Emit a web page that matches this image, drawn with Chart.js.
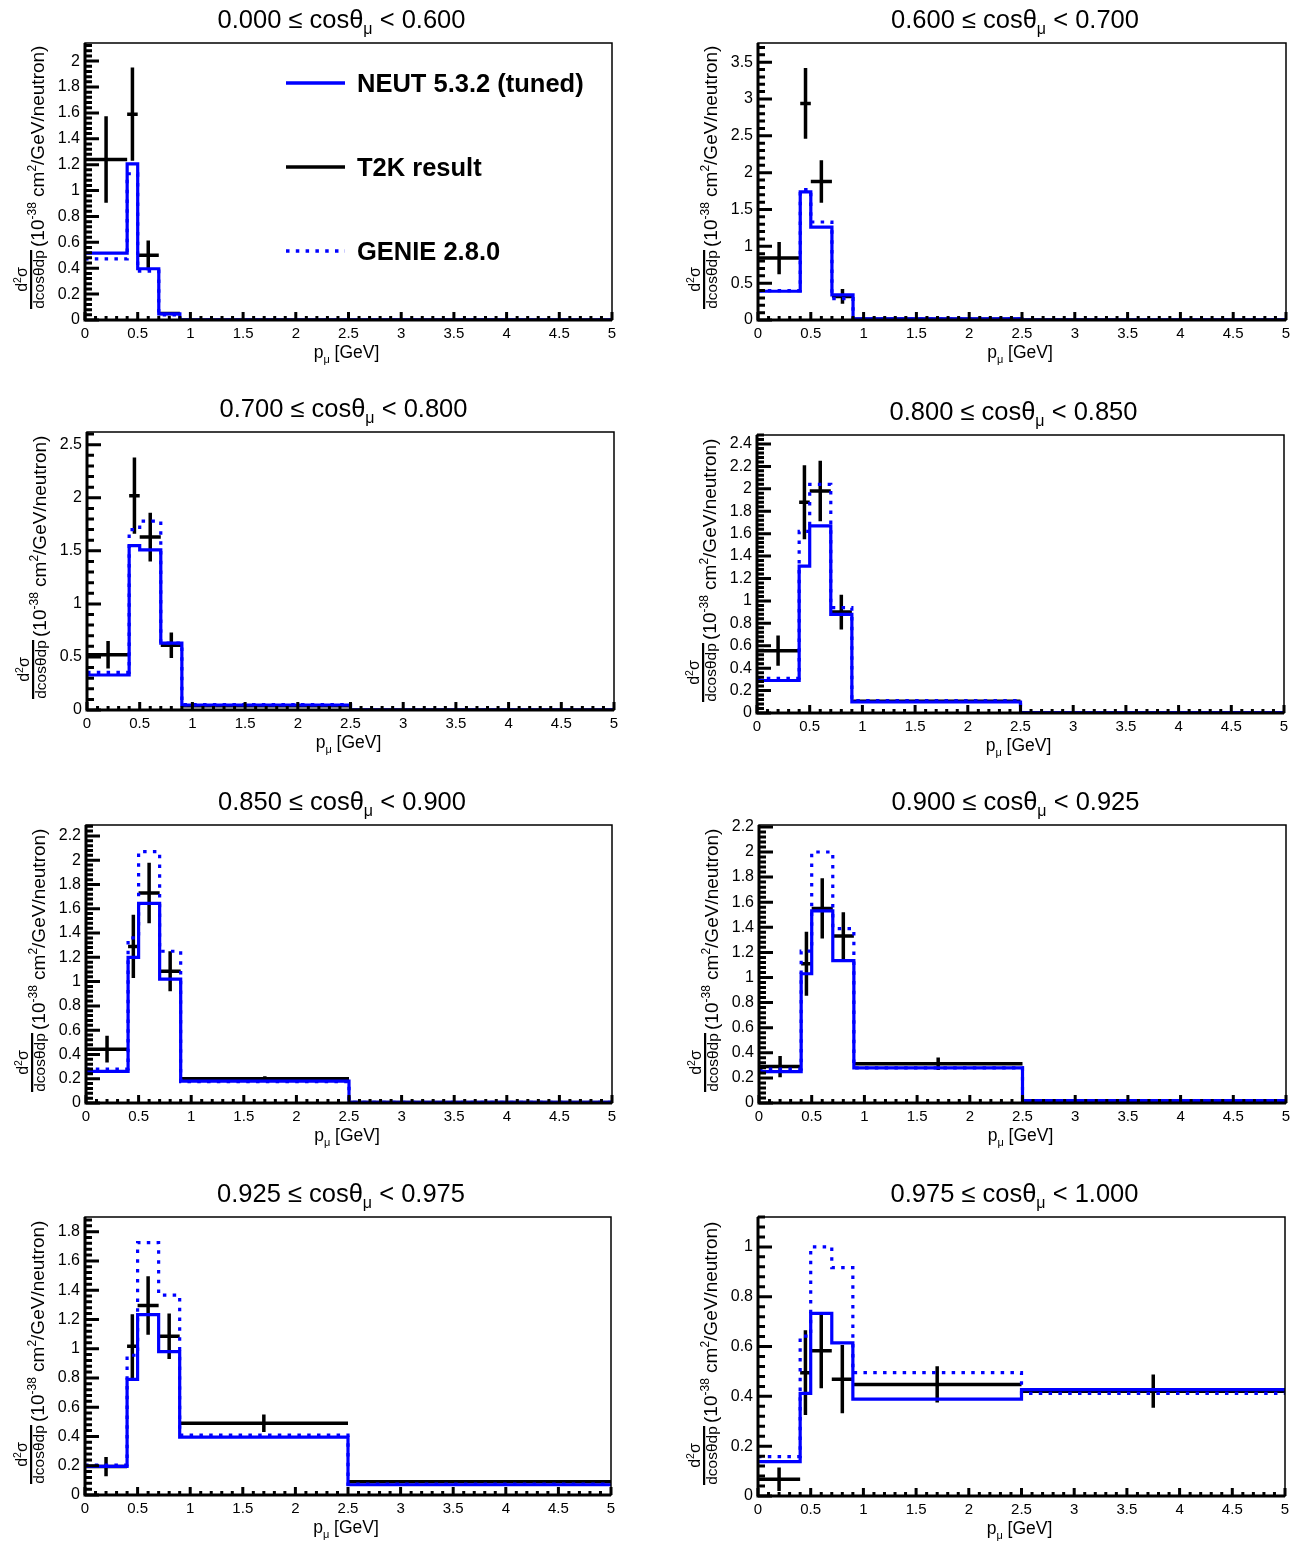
<!DOCTYPE html>
<html>
<head>
<meta charset="utf-8">
<script src="https://cdn.jsdelivr.net/npm/chart.js@4.4.1/dist/chart.umd.min.js"></script>
<style>
  body { margin: 0; background: #fff; width: 1304px; height: 1548px; position: relative; overflow: hidden; }
  canvas { position: absolute; }
</style>
</head>
<body>
<script>
// p_mu bin edges (GeV), shared by every cos(theta) slice
const binEdges = [0, 0.4, 0.5, 0.7, 0.9, 2.5, 5];
const xTickLabels = ['0', '0.5', '1', '1.5', '2', '2.5', '3', '3.5', '4', '4.5', '5'];

// cos(theta_mu) slices, one panel each
const cosBins = [
    ['0.000', '0.600'], ['0.600', '0.700'], ['0.700', '0.800'], ['0.800', '0.850'],
    ['0.850', '0.900'], ['0.900', '0.925'], ['0.925', '0.975'], ['0.975', '1.000']
];
const yMax = [2.14, 3.76, 2.62, 2.48, 2.29, 2.215, 1.9, 1.12];
const yStep = [0.2, 0.5, 0.5, 0.2, 0.2, 0.2, 0.2, 0.2];

// T2K result (black points) and their errors
const t2kValues = [
    [1.24, 1.59, 0.50, 0.05, 0, 0],
    [0.84, 2.94, 1.88, 0.32, 0.01, 0],
    [0.52, 2.02, 1.63, 0.61, 0.04, 0],
    [0.556, 1.88, 1.98, 0.90, 0.104, 0.003],
    [0.443, 1.29, 1.73, 1.086, 0.20, 0.005],
    [0.29, 1.11, 1.55, 1.33, 0.313, 0.015],
    [0.194, 1.016, 1.295, 1.085, 0.49, 0.09],
    [0.067, 0.495, 0.583, 0.469, 0.448, 0.421]
];
const t2kErrors = [
    [0.335, 0.36, 0.115, 0.01, 0, 0],
    [0.22, 0.48, 0.29, 0.10, 0.005, 0],
    [0.13, 0.36, 0.23, 0.12, 0.01, 0],
    [0.135, 0.33, 0.27, 0.155, 0.012, 0.001],
    [0.11, 0.26, 0.25, 0.165, 0.02, 0.001],
    [0.085, 0.255, 0.24, 0.19, 0.05, 0.005],
    [0.065, 0.22, 0.20, 0.155, 0.06, 0.01],
    [0.047, 0.17, 0.15, 0.137, 0.073, 0.067]
];
// NEUT 5.3.2 (tuned), solid blue
const neutValues = [
    [0.517, 1.206, 0.396, 0.047, 0, 0],
    [0.39, 1.74, 1.26, 0.34, 0.015, 0],
    [0.33, 1.55, 1.51, 0.63, 0.047, 0],
    [0.29, 1.31, 1.67, 0.88, 0.098, 0.003],
    [0.26, 1.20, 1.645, 1.02, 0.18, 0.005],
    [0.25, 1.03, 1.53, 1.134, 0.28, 0.02],
    [0.195, 0.79, 1.233, 0.98, 0.395, 0.07],
    [0.138, 0.412, 0.733, 0.615, 0.389, 0.427]
];
// GENIE 2.8.0, dotted blue
const genieValues = [
    [0.473, 1.13, 0.378, 0.04, 0, 0],
    [0.40, 1.77, 1.33, 0.29, 0.012, 0],
    [0.355, 1.70, 1.78, 0.63, 0.05, 0],
    [0.31, 1.62, 2.04, 0.94, 0.11, 0.003],
    [0.28, 1.36, 2.07, 1.25, 0.175, 0.005],
    [0.27, 1.21, 2.00, 1.39, 0.28, 0.02],
    [0.205, 0.955, 1.725, 1.366, 0.41, 0.075],
    [0.158, 0.642, 1.0, 0.917, 0.495, 0.412]
];

// page layout: plot frames [left, top, right, bottom] and row cells
const plotBoxes = [
    [85, 43, 612, 320], [758, 43, 1286, 320],
    [87, 432, 614, 710], [757, 435, 1284, 713],
    [86, 825, 612, 1103], [759, 825, 1286, 1103],
    [85, 1217, 611, 1495], [758, 1217, 1285, 1496]
];
const rowTops = [0, 387, 775, 1165, 1548];
const FONT = '"Liberation Sans", Arial, Helvetica, sans-serif';
const BLUE = '#0000ff';
const GENIE_DASH = [3.5, 6.3];

const fmt = v => String(Math.round(v * 1000) / 1000);

function histPoints(vals) {
    const pts = vals.map((v, k) => ({ x: binEdges[k], y: v }));
    pts.push({ x: binEdges[binEdges.length - 1], y: vals[vals.length - 1] });
    return pts;
}

function errorBarPoints(vals, errs) {
    const pts = [];
    vals.forEach((v, k) => {
        const lo = binEdges[k], hi = binEdges[k + 1], c = (lo + hi) / 2;
        pts.push({ x: lo, y: v }, { x: hi, y: v }, { x: hi, y: null });
        pts.push({ x: c, y: v - errs[k] }, { x: c, y: v + errs[k] }, { x: c, y: null });
    });
    return pts;
}

// draws a run of text pieces (for sub/superscripts)
function richText(ctx, parts, x, y, align) {
    let total = 0;
    parts.forEach(p => {
        ctx.font = (p.bold ? 'bold ' : '') + p.s + 'px ' + FONT;
        p.w = ctx.measureText(p.t).width;
        total += p.w;
    });
    let cx = align === 'center' ? x - total / 2 : align === 'right' ? x - total : x;
    ctx.textAlign = 'left';
    ctx.textBaseline = 'alphabetic';
    parts.forEach(p => {
        ctx.font = (p.bold ? 'bold ' : '') + p.s + 'px ' + FONT;
        ctx.fillText(p.t, cx, y + (p.dy || 0));
        cx += p.w;
    });
    return total;
}

const rootStyle = {
    id: 'rootStyle',
    afterDatasetsDraw(chart, args, opts) {
        const ctx = chart.ctx;
        const { left, right, top, bottom } = chart.chartArea;
        const xs = chart.scales.x, ys = chart.scales.y;
        ctx.save();
        ctx.strokeStyle = '#000';
        ctx.lineWidth = 1.5;
        ctx.strokeRect(left, top, right - left, bottom - top);
        ctx.lineWidth = 3;
        ctx.beginPath();
        ctx.moveTo(left, top);
        ctx.lineTo(left, bottom);
        ctx.lineTo(right, bottom);
        ctx.stroke();

        // inward ticks, ROOT style
        ctx.beginPath();
        for (let k = 0; k <= 50; k++) {
            const px = xs.getPixelForValue(k * 0.1);
            const len = k % 5 === 0 ? 8 : 4;
            ctx.moveTo(px, bottom);
            ctx.lineTo(px, bottom - len);
        }
        const minor = opts.step / 5;
        for (let k = 0; k * minor <= opts.max + 1e-9; k++) {
            const py = ys.getPixelForValue(k * minor);
            const len = k % 5 === 0 ? 14 : 7;
            ctx.moveTo(left, py);
            ctx.lineTo(left + len, py);
        }
        ctx.stroke();
        ctx.restore();
    },
    afterDraw(chart, args, opts) {
        const ctx = chart.ctx;
        const { left, right, top, bottom } = chart.chartArea;
        ctx.save();
        ctx.fillStyle = '#000';

        // panel title
        const [lo, hi] = opts.range;
        richText(ctx, [
            { t: lo + ' \u2264 cos\u03b8', s: 25.5 },
            { t: '\u03bc', s: 16, dy: 6 },
            { t: ' < ' + hi, s: 25.5 }
        ], (left + right) / 2 - 7, top - 15, 'center');

        // x title
        richText(ctx, [
            { t: 'p', s: 17.5 },
            { t: '\u03bc', s: 11, dy: 5 },
            { t: ' [GeV]', s: 17.5 }
        ], (left + right) / 2 - 2, bottom + 38, 'center');

        // y title, rotated
        ctx.save();
        ctx.translate(left, bottom);
        ctx.rotate(-Math.PI / 2);
        ctx.font = '15.5px ' + FONT;
        ctx.textAlign = 'center';
        ctx.fillText('dcos\u03b8dp', 40.5, -41);
        ctx.fillRect(11, -55, 59, 2.2);
        richText(ctx, [
            { t: 'd', s: 16 },
            { t: '2', s: 10.5, dy: -6 },
            { t: '\u03c3', s: 16 }
        ], 40.5, -58.5, 'center');
        richText(ctx, [
            { t: '(10', s: 19 },
            { t: '-38', s: 12, dy: -7.5 },
            { t: ' cm', s: 19 },
            { t: '2', s: 12, dy: -7.5 },
            { t: '/GeV/neutron)', s: 19 }
        ], 73, -41.5, 'left');
        ctx.restore();

        // legend, first panel only
        if (opts.legend) {
            const items = [
                { label: 'NEUT 5.3.2 (tuned)', color: BLUE, dash: [], y: 83 },
                { label: 'T2K result', color: '#000', dash: [], y: 167 },
                { label: 'GENIE 2.8.0', color: BLUE, dash: GENIE_DASH, y: 251 }
            ];
            items.forEach(it => {
                ctx.save();
                ctx.strokeStyle = it.color;
                ctx.lineWidth = 3.5;
                ctx.setLineDash(it.dash);
                ctx.beginPath();
                ctx.moveTo(286, it.y);
                ctx.lineTo(345, it.y);
                ctx.stroke();
                ctx.restore();
                richText(ctx, [{ t: it.label, s: 25.5, bold: true }], 357, it.y + 9, 'left');
            });
        }
        ctx.restore();
    }
};

plotBoxes.forEach((box, i) => {
    const col = i % 2, row = Math.floor(i / 2);
    const cell = { x: col * 652, y: rowTops[row], w: 652, h: rowTops[row + 1] - rowTops[row] };
    const [L, T, R, B] = box;

    const canvas = document.createElement('canvas');
    canvas.width = cell.w;
    canvas.height = cell.h;
    canvas.style.left = cell.x + 'px';
    canvas.style.top = cell.y + 'px';
    document.body.appendChild(canvas);

    new Chart(canvas, {
        type: 'line',
        data: {
            datasets: [
                {
                    label: 'GENIE 2.8.0',
                    data: histPoints(genieValues[i]),
                    stepped: 'before',
                    borderColor: BLUE,
                    borderWidth: 3.2,
                    borderDash: GENIE_DASH,
                    pointRadius: 0,
                    fill: false
                },
                {
                    label: 'NEUT 5.3.2 (tuned)',
                    data: histPoints(neutValues[i]),
                    stepped: 'before',
                    borderColor: BLUE,
                    borderWidth: 3.2,
                    pointRadius: 0,
                    fill: false
                },
                {
                    label: 'T2K result',
                    data: errorBarPoints(t2kValues[i], t2kErrors[i]),
                    borderColor: '#000',
                    borderWidth: 3.5,
                    pointRadius: 0,
                    spanGaps: false,
                    fill: false
                }
            ]
        },
        options: {
            responsive: false,
            animation: false,
            devicePixelRatio: 1,
            events: [],
            layout: { padding: { left: 0, top: T - cell.y, right: cell.x + cell.w - R, bottom: 0 } },
            plugins: {
                legend: { display: false },
                tooltip: { enabled: false },
                rootStyle: { range: cosBins[i], max: yMax[i], step: yStep[i], legend: i === 0 }
            },
            scales: {
                x: {
                    type: 'linear',
                    min: 0,
                    max: 5,
                    grid: { display: false, drawTicks: false },
                    border: { display: false },
                    afterFit: s => { s.height = cell.y + cell.h - B; },
                    afterBuildTicks: s => { s.ticks = xTickLabels.map(t => ({ value: parseFloat(t) })); },
                    ticks: {
                        callback: v => fmt(v),
                        color: '#000',
                        font: { family: FONT, size: 15 },
                        padding: 5,
                        maxRotation: 0,
                        autoSkip: false
                    }
                },
                y: {
                    type: 'linear',
                    min: 0,
                    max: yMax[i],
                    grid: { display: false, drawTicks: false },
                    border: { display: false },
                    afterFit: s => { s.width = L - cell.x; },
                    ticks: {
                        stepSize: yStep[i],
                        includeBounds: false,
                        callback: v => fmt(v),
                        color: '#000',
                        font: { family: FONT, size: 16 },
                        padding: 5
                    }
                }
            }
        },
        plugins: [rootStyle]
    });
});
</script>
</body>
</html>
